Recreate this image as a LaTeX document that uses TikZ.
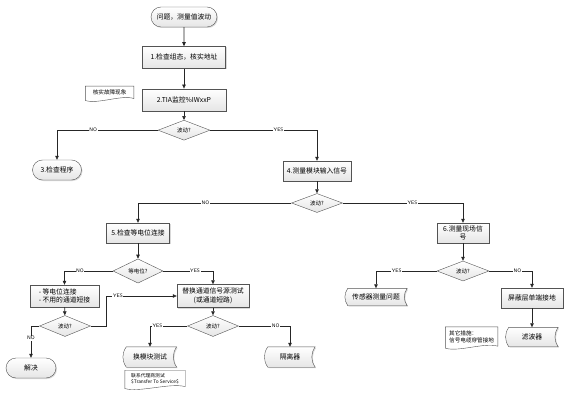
\documentclass[tikz,border=0pt]{standalone}
\usepackage{fontspec}
\newfontfamily\cjk{Noto Sans CJK SC}
\usetikzlibrary{positioning}
\usetikzlibrary{shapes.geometric,shapes.misc}
\usetikzlibrary{arrows.meta,shadows,backgrounds,calc}
\tikzstyle{proc} = [rectangle,draw=gray!65!black,top color=white,bottom color=gray!20,drop shadow={shadow xshift=1pt,shadow yshift=-1pt,opacity=.3},minimum height=20pt,inner sep=1pt,align=center,font=\cjk\fontsize{6.8}{8.5}\selectfont]
\tikzstyle{term} = [proc,rounded rectangle]
\tikzstyle{dec} = [diamond,draw=gray!65!black,top color=white,bottom color=gray!20,minimum width=52pt,minimum height=20pt,inner sep=0pt,font=\cjk\fontsize{5.5}{6}\selectfont]
\tikzstyle{store} = [rectangle,minimum height=20pt,inner sep=1pt,font=\cjk\fontsize{6.8}{8.5}\selectfont]
\tikzstyle{note} = [rectangle,inner sep=1.5pt,align=left,font=\cjk\fontsize{5.6}{7}\selectfont]
\tikzstyle{line} = [draw=gray!30!black,line width=0.6pt,-{Triangle[length=4pt,width=3.5pt]}]
\tikzstyle{lbl} = [fill=white,inner sep=0.6pt,font=\sffamily\fontsize{5}{5}\selectfont]
\newcommand{\docshape}[1]{%
  \draw[draw=gray!65!black,fill=white] (#1.north west) -- (#1.north east) -- ([yshift=1pt]#1.south east)
    .. controls ($(#1.south)!.5!(#1.south east)+(0,5pt)$) and ($(#1.south)!.5!(#1.south west)+(0,-5pt)$) .. ([yshift=-1pt]#1.south west) -- cycle;}

\begin{document}
\begin{tikzpicture}[x=1pt,y=1pt]
\useasboundingbox (0,0) rectangle (565,400);

% Define nodes
\node[term, minimum width=68pt] at (184,383)          (start) {问题，测量值波动};
\node[proc, minimum width=83pt, minimum height=22pt, below = 19pt of start] (chk) {1.检查组态，核实地址};
\node[proc, minimum width=84pt, minimum height=22pt, below = 20pt of chk]   (tia) {2.TIA监控\%IWxxP};
\node[note, minimum width=48pt, minimum height=13pt, left = 8pt of tia, yshift=7pt] (fault) {核实故障现象};
\node[dec, below = 9pt of tia]                        (d1) {波动?};

\node[term, minimum width=51pt] at (57,230)           (prog) {3.检查程序};
\node[proc, minimum width=68pt] at (317,229)          (inp) {4.测量模块输入信号};
\node[dec, minimum width=51pt, minimum height=19pt] at (317,197) (d2) {波动?};

\node[proc, minimum width=63pt] at (138,167)          (equ) {5.检查等电位连接};
\node[proc, minimum width=52pt, font=\cjk\fontsize{6.8}{7.5}\selectfont] at (463,167) (field) {6.测量现场信\\号};
\node[dec, minimum width=50pt, minimum height=18pt] at (138,129) (d3) {等电位?};

\node[proc, minimum width=69pt, minimum height=22pt, align=left] at (64.5,104) (conn) {- 等电位连接\\- 不用的通道短接};
\node[proc, minimum width=72pt, minimum height=23pt] at (213,104) (src) {替换通道信号源测试\\(或通道短路)};
\node[dec, minimum width=51pt, minimum height=21pt] at (65,74)  (d4) {波动?};
\node[dec, minimum width=51pt, minimum height=21pt] at (213,74) (d5) {波动?};
\node[term, minimum width=52pt] at (31,32)            (ok) {解决};

\node[store, minimum width=53pt] at (150,43)          (swap) {换模块测试};
\node[store, minimum width=50pt] at (290,43)          (iso) {隔离器};
\node[note, minimum width=60pt, minimum height=17pt, font=\cjk\fontsize{4.8}{6.5}\selectfont, below = 3pt of swap, xshift=5pt] (svc) {联系代理商测试\\\$Transfer To Service\$};

\node[dec] at (463,129)                               (d6) {波动?};
\node[store, minimum width=62pt, minimum height=17pt] at (376,103) (sens) {传感器测量问题};
\node[proc, minimum width=62pt] at (532,102)          (shld) {屏蔽层单端接地};
\node[store, minimum width=52pt, minimum height=19pt] at (532,63) (filt) {滤波器};
\node[note, minimum width=52pt, minimum height=20pt, left = 8pt of filt] (other) {其它措施：\\信号电缆穿管接地};

\begin{scope}[on background layer]
\foreach \n in {swap,iso,sens,filt}{
  \draw[draw=gray!65!black,top color=white,bottom color=gray!20,drop shadow={shadow xshift=1pt,shadow yshift=-1pt,opacity=.3}]
    ([xshift=3pt]\n.north west) to[bend right=35] ([xshift=3pt]\n.south west) -- (\n.south east)
    to[bend left=35] (\n.north east) -- cycle;
}
\foreach \n in {fault,svc,other}{
  \docshape{\n}
}
\end{scope}

% Edges
\draw[line] (start) -- (chk);
\draw[line] (chk) -- (tia);
\draw[line] (tia) -- (d1);
\draw[line] (d1.west) -| node[lbl, pos=.32] {NO} (prog.north);
\draw[line] (d1.east) -| node[lbl, pos=.32] {YES} (inp.north);
\draw[line] (inp) -- (d2);
\draw[line] (d2.west) -| node[lbl, pos=.28] {NO} (equ.north);
\draw[line] (d2.east) -| node[lbl, pos=.29] {YES} (field.north);
\draw[line] (equ) -- (d3);
\draw[line] (d3.west) -| node[lbl, pos=.34] {NO} (conn.north);
\draw[line] (d3.east) -| node[lbl, pos=.32] {YES} (src.north);
\draw[line] (conn) -- (d4);
\draw[line] (src) -- (d5);
\draw[line] (d4.west) -| node[lbl, pos=.69] {NO} (ok.north);
\draw[line] (d4.east) -- ++(16pt,0) |- node[lbl, pos=.58] {YES} (src.west);
\draw[line] (d5.west) -| node[lbl, pos=.4] {YES} (swap.north);
\draw[line] (d5.east) -| node[lbl, pos=.36] {NO} (iso.north);
\draw[line] (field) -- (d6);
\draw[line] (d6.west) -| node[lbl, pos=.33] {YES} (sens.north);
\draw[line] (d6.east) -| node[lbl, pos=.33] {NO} (shld.north);
\draw[line] (shld) -- (filt);
\end{tikzpicture}
\end{document}
